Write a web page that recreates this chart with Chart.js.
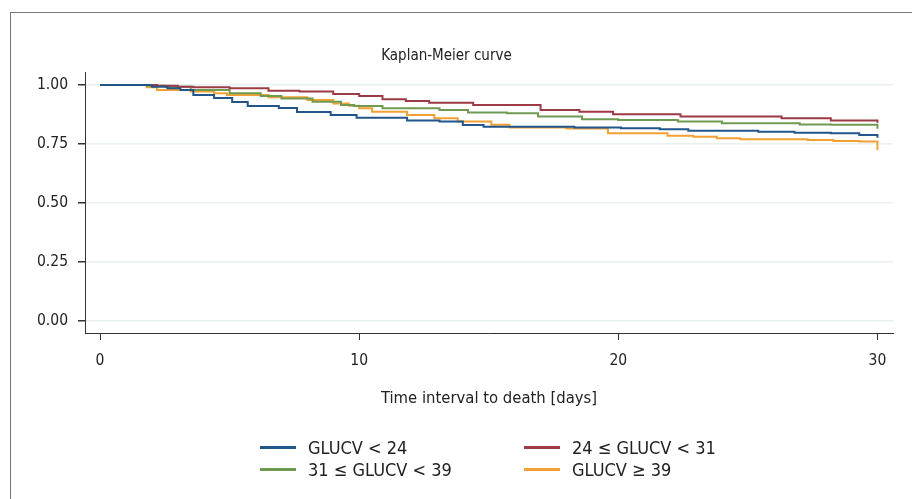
<!DOCTYPE html>
<html>
<head>
<meta charset="utf-8">
<script src="https://cdn.jsdelivr.net/npm/chart.js@4"></script>
<style>
  html, body { margin: 0; padding: 0; background: #fff; }
  body { width: 912px; height: 499px; position: relative; overflow: hidden;
         font-family: 'DejaVu Sans Condensed', sans-serif; }
  #frame { position: absolute; left: 10px; top: 12px; width: 920px; height: 500px;
           border-left: 1px solid #777; border-top: 1px solid #777; }
  #wrap { position: absolute; left: 0; top: 0; width: 912px; height: 499px; }
  #legend { position: absolute; left: 260px; top: 436px; display: grid;
            grid-template-columns: 264px 280px; row-gap: 0; color: #222; font-size: 18px; }
  .item { display: flex; align-items: center; height: 22px; white-space: nowrap; }
  .swatch { width: 36px; height: 3px; margin-right: 12px; }
</style>
</head>
<body>
<div id="frame"></div>
<div id="wrap"><canvas id="km" width="912" height="499"></canvas></div>
<div id="legend"></div>
<script>
// group labels and colours
var groups = ["GLUCV < 24", "24 \u2264 GLUCV < 31", "31 \u2264 GLUCV < 39", "GLUCV \u2265 39"]
var colors = ["#22568a", "#9c3b46", "#6f9a52", "#f3a034"]

// survival steps (time in days, survival)
var t1 = [0, 2.0, 2.6, 3.1, 3.6, 4.4, 5.1, 5.7, 6.9, 7.6, 8.9, 9.9, 11.85, 13.1, 14.0, 14.8, 18.3, 20.1, 21.6, 22.7, 25.4, 26.8, 28.2, 29.3, 30]
var s1 = [1, 0.993, 0.986, 0.979, 0.958, 0.945, 0.928, 0.911, 0.902, 0.886, 0.873, 0.861, 0.849, 0.845, 0.83, 0.823, 0.82, 0.817, 0.812, 0.806, 0.802, 0.798, 0.795, 0.788, 0.776]

var t2 = [0, 2.2, 3.0, 3.6, 5.0, 6.5, 7.7, 9.0, 10.0, 10.9, 11.8, 12.7, 14.4, 17.0, 18.5, 19.8, 22.4, 26.3, 28.2, 30]
var s2 = [1, 0.997, 0.993, 0.99, 0.986, 0.976, 0.972, 0.962, 0.953, 0.939, 0.932, 0.925, 0.915, 0.894, 0.887, 0.876, 0.866, 0.859, 0.849, 0.84]

var t3 = [0, 1.8, 2.5, 3.5, 5.0, 6.2, 7.0, 8.2, 9.3, 9.8, 10.9, 13.1, 14.2, 15.7, 16.9, 18.6, 20.0, 22.3, 24.0, 27.0, 28.2, 30]
var s3 = [1, 0.997, 0.993, 0.979, 0.965, 0.953, 0.943, 0.929, 0.915, 0.911, 0.901, 0.894, 0.883, 0.88, 0.866, 0.855, 0.852, 0.845, 0.838, 0.833, 0.831, 0.815]

var t4 = [0, 1.8, 2.2, 3.5, 4.4, 4.9, 6.5, 8.0, 9.0, 9.6, 10.0, 10.5, 11.85, 12.9, 13.8, 15.1, 15.8, 18.0, 19.6, 21.9, 22.9, 23.8, 24.7, 27.3, 28.3, 29.3, 30]
var s4 = [1, 0.99, 0.979, 0.972, 0.965, 0.958, 0.948, 0.936, 0.922, 0.912, 0.901, 0.887, 0.873, 0.859, 0.845, 0.831, 0.82, 0.816, 0.795, 0.785, 0.781, 0.774, 0.77, 0.767, 0.763, 0.76, 0.725]

// axis ticks
var xTicks = [0, 10, 20, 30]
var yTicks = [0, 0.25, 0.5, 0.75, 1]

var times = [t1, t2, t3, t4]
var surv = [s1, s2, s3, s4]
var fam = "'DejaVu Sans Condensed', sans-serif"

var datasets = groups.map(function (g, i) {
  return {
    label: g,
    data: times[i].map(function (t, j) { return {x: t, y: surv[i][j]} }),
    borderColor: colors[i],
    borderWidth: 2,
    pointRadius: 0,
    stepped: true,
    fill: false
  }
})

new Chart("km", {
  type: "line",
  data: {datasets: datasets},
  options: {
    responsive: false,
    animation: false,
    layout: {padding: {left: 0, right: 19, top: 0, bottom: 86}},
    plugins: {
      legend: {display: false},
      tooltip: {enabled: false},
      title: {
        display: true,
        text: "Kaplan-Meier curve",
        color: "#222",
        font: {family: fam, size: 15, weight: "normal"},
        padding: {top: 47, bottom: 7}
      }
    },
    scales: {
      x: {
        type: "linear",
        min: -0.58, max: 30.6,
        afterBuildTicks: function (s) { s.ticks = xTicks.map(function (v) { return {value: v} }) },
        afterFit: function (s) { s.height = 80 },
        border: {display: true, color: "#333", width: 1},
        grid: {drawOnChartArea: false, tickColor: "#333", tickLength: 7},
        ticks: {color: "#222", font: {family: fam, size: 15.5}, padding: 12, maxRotation: 0},
        title: {display: true, text: "Time interval to death [days]", color: "#222",
                font: {family: fam, size: 16.5}, padding: {top: 8}}
      },
      y: {
        min: -0.051, max: 1.055,
        afterBuildTicks: function (s) { s.ticks = yTicks.map(function (v) { return {value: v} }) },
        afterFit: function (s) { s.width = 85 },
        border: {display: true, color: "#333", width: 1},
        grid: {color: "#e9f0f0", lineWidth: 1.5, tickColor: "#333", tickLength: 7},
        ticks: {color: "#222", font: {family: fam, size: 15.5}, padding: 10,
                callback: function (v) { return v.toFixed(2) }}
      }
    }
  }
})

// legend in two columns
var leg = document.getElementById("legend")
groups.forEach(function (g, i) {
  var d = document.createElement("div")
  d.className = "item"
  d.innerHTML = '<span class="swatch" style="background:' + colors[i] + '"></span>' + g
  leg.appendChild(d)
})
</script>
</body>
</html>
